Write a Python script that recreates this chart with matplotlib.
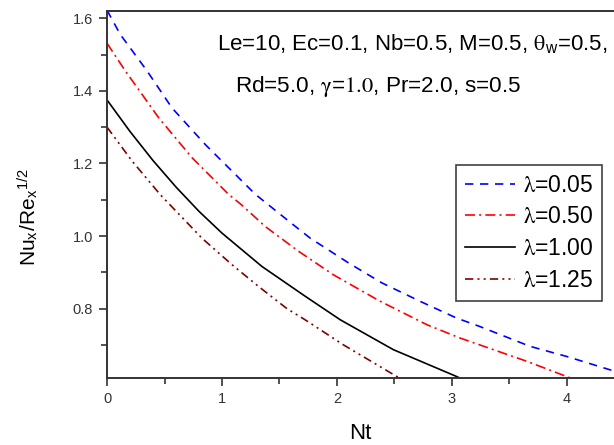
import matplotlib
matplotlib.use("Agg")
import matplotlib.pyplot as plt
from matplotlib.ticker import MultipleLocator

plt.rcParams['font.family'] = ['Liberation Sans', 'DejaVu Sans']
plt.rcParams['mathtext.fontset'] = 'stix'

# Data
nt_a = [0, 0.116, 0.348, 0.565, 0.855, 1.29, 1.62, 1.768, 2.10, 2.39, 2.724, 3.04, 3.24, 3.68, 4.0, 4.41]
nu_a = [1.622, 1.555, 1.455, 1.353, 1.252, 1.115, 1.031, 0.994, 0.926, 0.871, 0.82, 0.774, 0.751, 0.696, 0.668, 0.628]

nt_b = [0, 0.159, 0.449, 0.739, 1.057, 1.17, 1.377, 1.666, 1.97, 2.377, 2.78, 3.07, 3.65, 4.03, 4.10]
nu_b = [1.531, 1.455, 1.326, 1.216, 1.115, 1.086, 1.026, 0.958, 0.893, 0.82, 0.756, 0.719, 0.655, 0.609, 0.602]

nt_c = [0, 0.2, 0.4, 0.6, 0.8, 1.0, 1.348, 1.724, 2.03, 2.49, 3.04, 3.1]
nu_c = [1.375, 1.288, 1.208, 1.135, 1.068, 1.008, 0.916, 0.834, 0.769, 0.687, 0.613, 0.604]

nt_d = [0, 0.217, 0.463, 0.826, 1.087, 1.318, 1.565, 1.724, 2.057, 2.52, 2.6]
nu_d = [1.30, 1.207, 1.114, 0.994, 0.921, 0.861, 0.80, 0.769, 0.70, 0.613, 0.603]

labels = [r'$\mathrm{\lambda}$=0.05', r'$\mathrm{\lambda}$=0.50', r'$\mathrm{\lambda}$=1.00', r'$\mathrm{\lambda}$=1.25']
colors = ['#0000ff', '#ff0000', '#000000', '#800000']

fig = plt.figure(figsize=(6.14, 4.45), dpi=100)
ax = fig.add_axes([0.1743, 0.1499, 0.8257, 0.8254])

lw = 1.2
ax.plot(nt_a, nu_a, color=colors[0], lw=lw, dashes=(5, 4), label=labels[0])
ax.plot(nt_b, nu_b, color=colors[1], lw=lw, dashes=(6, 2.5, 1.2, 2.5), label=labels[1])
ax.plot(nt_c, nu_c, color=colors[2], lw=lw, label=labels[2])
ax.plot(nt_d, nu_d, color=colors[3], lw=lw, dashes=(5, 2.5, 1.2, 2.5, 1.2, 2.5), label=labels[3])

ax.set_xlim(0, 4.41)
ax.set_ylim(0.608, 1.62)
ax.xaxis.set_major_locator(MultipleLocator(1))
ax.xaxis.set_minor_locator(MultipleLocator(0.5))
ax.yaxis.set_minor_locator(MultipleLocator(0.1))
ax.set_yticks([0.8, 1.0, 1.2, 1.4, 1.6])
ax.set_yticklabels(['0.8', '1.0', '1.2', '1.4', '1.6'])

spc = '#333333'
for s in ['left', 'bottom', 'top']:
    ax.spines[s].set_linewidth(1.4)
    ax.spines[s].set_color(spc)
ax.spines['right'].set_visible(False)
ax.tick_params(which='major', direction='out', length=6, width=1.2, color=spc,
               labelsize=10.5, labelcolor='#333333', pad=4)
ax.tick_params(which='minor', direction='out', length=4, width=1.2, color=spc)

ax.set_xlabel('Nt', fontsize=16, labelpad=12)
ax.set_ylabel(r'Nu$_\mathregular{x}$/Re$_\mathregular{x}$$^\mathregular{1/2}$', fontsize=15)
ax.yaxis.set_label_coords(-0.13, 0.44)

ax.text(0.217, 0.894, r'Le=10, Ec=0.1, Nb=0.5, M=0.5, $\mathrm{\theta}_\mathregular{w}$=0.5,',
        transform=ax.transAxes, ha='left', va='baseline', fontsize=16)
ax.text(0.253, 0.780, r'Rd=5.0, $\mathrm{\gamma}$=$\mathrm{1.0}$, Pr=2.0, s=0.5',
        transform=ax.transAxes, ha='left', va='baseline', fontsize=16.2)

leg = ax.legend(loc='upper left', bbox_to_anchor=(456/614, 1-165/445), bbox_transform=fig.transFigure,
                fontsize=16.5, frameon=True, fancybox=False, edgecolor='#111111',
                handlelength=2.2, labelspacing=0.38, borderpad=0.38, handletextpad=0.35,
                borderaxespad=0)
leg.get_frame().set_linewidth(1.2)

fig.savefig('out.png', dpi=100)
